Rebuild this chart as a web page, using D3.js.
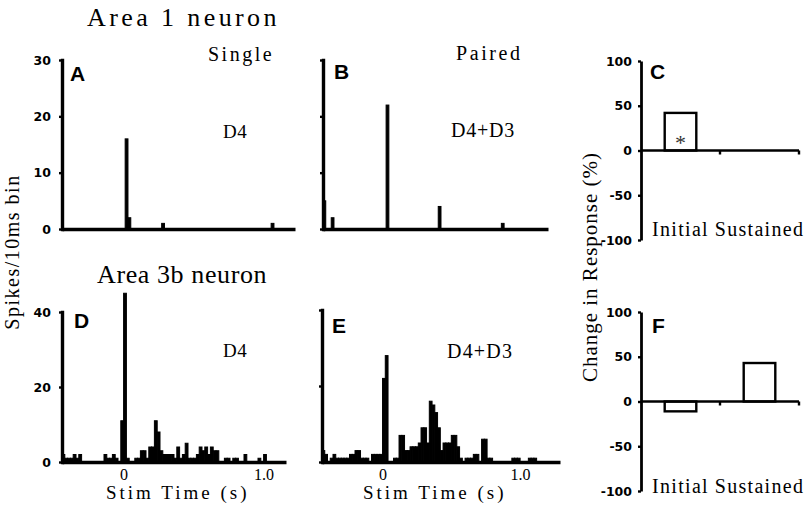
<!DOCTYPE html>
<html><head><meta charset="utf-8">
<script src="https://cdn.jsdelivr.net/npm/d3@7"></script>
<style>
body{margin:0;background:#fff;}
svg{display:block;}
</style></head>
<body>
<svg id="chart" width="810" height="508"></svg>
<script>
// ---------- DATA ----------
const binWidth = 0.02; // s per drawn histogram bin
// Panel A (Area 1, single D4): sparse bins (start time s, spikes)
const aTimes = [0, 0.02, 0.26, 1.04];
const aCounts = [16, 2, 1, 1];
// Panel B (Area 1, paired D4+D3)
const bTimes = [-0.44, -0.38, 0.02, 0.40, 0.86];
const bCounts = [5, 2, 22, 4, 1];
// Panel D (Area 3b, single D4): consecutive bins from dStart
const dStart = -0.44;
const dCounts = [2,1,1,1,2,1,2,0,0,0,0,0,0,0,0,2,1,1,2,1,0,11,45,1,0,0,1,1,3,3,1,4,4,11,8,3,2,2,2,2,1,4,1,2,5,1,1,1,2,4,3,4,2,4,3,3,0,0,1,1,0,1,1,0,0,2,0,0,0,0,1,0,2,0,0,0,0,0,0,0];
// Panel E (Area 3b, paired D4+D3)
const eStart = -0.44;
const eCounts = [3,2,0,1,2,1,1,1,1,1,2,2,3,3,1,1,1,0,2,2,2,2,22,28,0,0,1,1,7,7,3,3,4,4,4,5,9,9,5,16,15,13,9,3,5,5,5,7,7,4,1,0,1,1,1,2,2,0,6,6,1,1,0,0,0,0,0,0,0,1,1,1,0,0,0,1,1,1,0,0,0,0,0,0,0,0,0];
// Bar panels: change in response (%)
const phases = ["Initial", "Sustained"];
const cChange = [42, 0];
const fChange = [-11, 43];
const cSignificant = [true, false];
// Tick labels
const aYTicks = [0, 10, 20, 30];
const dYTicks = [0, 20, 40];
const barYTicks = [-100, -50, 0, 50, 100];
const xTickValues = [0, 1.0];
const xTickLabels = ["0", "1.0"];

// ---------- DRAW ----------
const svg = d3.select("#chart");
const serif = "'Liberation Serif', 'Times New Roman', serif";
const sans = "'Liberation Sans', Arial, sans-serif";
const tickFont = "'DejaVu Sans', sans-serif";

function text(x, y, str, opts = {}) {
  const t = svg.append("text")
    .attr("x", x).attr("y", y)
    .attr("font-family", opts.family || serif)
    .attr("font-size", opts.size || 20)
    .attr("font-weight", opts.weight || "normal")
    .attr("letter-spacing", opts.ls || 0)
    .attr("text-anchor", opts.anchor || "start")
    .attr("fill", opts.fill || "#000")
    .text(str);
  if (opts.rotate) t.attr("transform", `rotate(${opts.rotate},${x},${y})`);
  return t;
}

function histPanel(cfg) {
  const x = d3.scaleLinear().domain(cfg.xDomain).range(cfg.xRange);
  const y = d3.scaleLinear().domain(cfg.yDomain).range(cfg.yRange);
  const g = svg.append("g");
  const data = cfg.bins.filter(d => d.v > 0);
  g.selectAll("rect.bin").data(data).join("rect")
    .attr("class", "bin")
    .attr("x", d => x(d.t))
    .attr("width", d => x(d.t + binWidth) - x(d.t))
    .attr("y", d => y(d.v))
    .attr("height", d => y(0) - y(d.v))
    .attr("fill", "#000")
    .attr("stroke", "#000")
    .attr("stroke-width", 1);
  // y axis
  const ya = d3.axisLeft(y).tickValues(cfg.yTicks).tickSize(3).tickSizeOuter(0).tickPadding(8)
    .tickFormat(cfg.showYLabels ? (d => String(d)) : () => "");
  const yg = g.append("g").attr("transform", `translate(${cfg.xRange[0]},0)`).call(ya);
  yg.select(".domain").attr("stroke-width", 3.4).attr("stroke-linecap", "square");
  yg.selectAll(".tick line").attr("stroke-width", 2.4);
  yg.selectAll(".tick text").attr("font-family", tickFont).attr("font-weight", "bold").attr("font-size", 12.5);
  // x axis
  const xa = d3.axisBottom(x).tickValues(cfg.showXLabels ? xTickValues : []).tickSize(0).tickSizeOuter(0).tickPadding(7)
    .tickFormat((d, i) => xTickLabels[i]);
  const xg = g.append("g").attr("transform", `translate(0,${y(0)})`).call(xa);
  xg.select(".domain").attr("stroke-width", 3.4);
  xg.selectAll(".tick text").attr("font-family", serif).attr("font-size", 16);
  return {x, y};
}

function barPanel(cfg) {
  const x = d3.scaleBand().domain(phases).range(cfg.xRange).paddingInner(0.6).paddingOuter(0.3);
  const y = d3.scaleLinear().domain([-100, 100]).range(cfg.yRange);
  const g = svg.append("g");
  const data = phases.map((p, i) => ({p, v: cfg.values[i], sig: cfg.sig ? cfg.sig[i] : false}));
  g.selectAll("rect.bar").data(data.filter(d => d.v !== 0)).join("rect")
    .attr("class", "bar")
    .attr("x", d => x(d.p))
    .attr("width", x.bandwidth())
    .attr("y", d => y(Math.max(0, d.v)))
    .attr("height", d => Math.abs(y(d.v) - y(0)))
    .attr("fill", "#fff").attr("stroke", "#000").attr("stroke-width", 2.4);
  g.selectAll("text.sig").data(data.filter(d => d.sig)).join("text")
    .attr("class", "sig")
    .attr("x", d => x(d.p) + x.bandwidth() / 2)
    .attr("y", y(0) - 1)
    .attr("text-anchor", "middle")
    .attr("font-family", serif).attr("font-size", 22).attr("fill", "#333")
    .text("*");
  const ya = d3.axisLeft(y).tickValues(barYTicks).tickSize(3).tickSizeOuter(0).tickPadding(6)
    .tickFormat(d => String(d));
  const yg = g.append("g").attr("transform", `translate(${cfg.xRange[0]},0)`).call(ya);
  yg.select(".domain").attr("stroke-width", 2.8);
  yg.selectAll(".tick line").attr("stroke-width", 2.4);
  yg.selectAll(".tick text").attr("font-family", tickFont).attr("font-weight", "bold").attr("font-size", 12.5);
  // zero line with ticks at the category boundaries
  const bounds = phases.map(p => x(p) + x.bandwidth() + x.step() * x.paddingOuter());
  const xg = g.append("g");
  xg.append("line").attr("x1", cfg.xRange[0]).attr("x2", cfg.xRange[1])
    .attr("y1", y(0)).attr("y2", y(0)).attr("stroke", "#000").attr("stroke-width", 2.4);
  xg.selectAll("line.bt").data(bounds).join("line").attr("class", "bt")
    .attr("x1", d => d).attr("x2", d => d).attr("y1", y(0)).attr("y2", y(0) + 4)
    .attr("stroke", "#000").attr("stroke-width", 2.4);
  g.selectAll("text.cat").data(phases).join("text")
    .attr("class", "cat")
    .attr("x", d => x(d) + x.bandwidth() / 2)
    .attr("y", y(-100) + cfg.labelDy)
    .attr("text-anchor", "middle")
    .attr("font-family", serif).attr("font-size", 20).attr("letter-spacing", 1.3)
    .text(d => d);
}

const sparse = (ts, cs) => ts.map((t, i) => ({t, v: cs[i]}));
const dense = (start, cs) => cs.map((v, i) => ({t: start + i * binWidth, v}));

histPanel({xRange: [62, 295], xDomain: [-0.45, 1.21], yRange: [229, 60], yDomain: [0, 30],
  yTicks: aYTicks, showYLabels: true, showXLabels: false, bins: sparse(aTimes, aCounts)});
histPanel({xRange: [323, 548], xDomain: [-0.44, 1.20], yRange: [229, 60], yDomain: [0, 30],
  yTicks: aYTicks, showYLabels: false, showXLabels: false, bins: sparse(bTimes, bCounts)});
histPanel({xRange: [62, 286], xDomain: [-0.44, 1.16], yRange: [462, 312], yDomain: [0, 40],
  yTicks: dYTicks, showYLabels: true, showXLabels: true, bins: dense(dStart, dCounts)});
histPanel({xRange: [322, 560], xDomain: [-0.44, 1.29], yRange: [462, 310], yDomain: [0, 40],
  yTicks: dYTicks, showYLabels: false, showXLabels: true, bins: dense(eStart, eCounts)});

barPanel({xRange: [641, 799], yRange: [240, 61], values: cChange, sig: cSignificant, labelDy: -4});
barPanel({xRange: [641, 799], yRange: [491, 312], values: fChange, labelDy: 2});

// titles & annotations
text(87, 26, "Area 1 neuron", {size: 26, ls: 3.4});
text(97, 283, "Area 3b neuron", {size: 26, ls: 0.6});
text(208, 61, "Single", {size: 20, ls: 2.5});
text(456, 60, "Paired", {size: 20, ls: 2.6});
text(223, 138, "D4", {size: 19, ls: 0.5});
text(451, 137, "D4+D3", {size: 20, ls: 0.8});
text(223, 357, "D4", {size: 19, ls: 0.5});
text(447, 358, "D4+D3", {size: 20, ls: 1.2});
text(106, 499, "Stim Time (s)", {size: 19, ls: 3});
text(363, 499, "Stim Time (s)", {size: 19, ls: 3});
text(19, 252, "Spikes/10ms bin", {size: 20, ls: 1.5, anchor: "middle", rotate: -90});
text(597, 267, "Change in Response (%)", {size: 21, ls: 1, anchor: "middle", rotate: -90});
// panel letters
const letters = [["A", 70, 81], ["B", 334, 79], ["C", 650, 79], ["D", 74, 328], ["E", 332, 333], ["F", 652, 333]];
letters.forEach(([l, x, y]) => text(x, y, l, {family: sans, size: 21, weight: "bold"}));
</script>
</body></html>
